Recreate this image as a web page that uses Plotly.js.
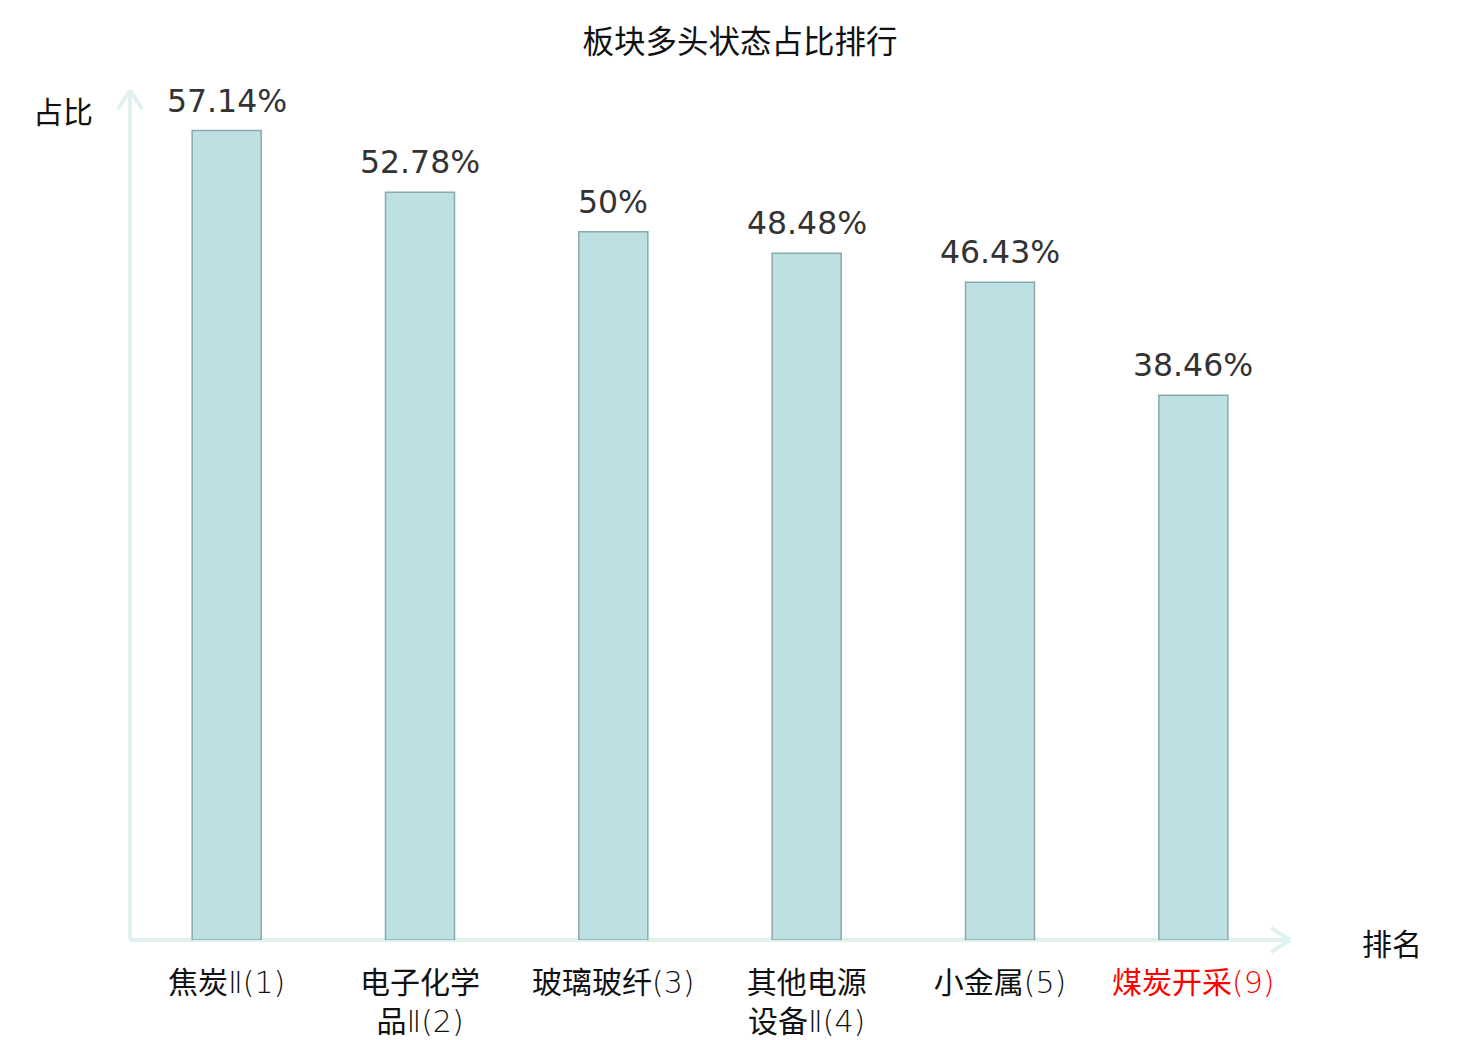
<!DOCTYPE html>
<html><head><meta charset="utf-8">
<script src="https://cdn.plot.ly/plotly-3.0.1.min.js"></script>
<style>html,body{margin:0;padding:0;background:#fff;}</style>
</head><body>
<div id="chart" style="width:1480px;height:1040px;"></div>
<script>
const categories = ["焦炭Ⅱ(1)", "电子化学<br>品Ⅱ(2)", "玻璃玻纤(3)", "其他电源<br>设备Ⅱ(4)", "小金属(5)", "煤炭开采(9)"];
const values = [57.14, 52.78, 50, 48.48, 46.43, 38.46];
const valueLabels = ["57.14%", "52.78%", "50%", "48.48%", "46.43%", "38.46%"];
const highlighted = [false, false, false, false, false, true];

const W = 1480, H = 1040, L = 130, R = 190, T = 90, B = 100;
const pw = W - L - R, ph = H - T - B;
const px = x => (x - L) / pw;
const py = y => (H - B - y) / ph;
const axisColor = "#dff2f0";
const font = "DejaVu Sans, Noto Sans CJK SC, sans-serif";
const cjkFont = "Noto Sans CJK SC, DejaVu Sans, sans-serif";

function seg(x0, y0, x1, y1) {
  return {type: "line", xref: "paper", yref: "paper", x0: px(x0), y0: py(y0), x1: px(x1), y1: py(y1),
          line: {color: axisColor, width: 4}, layer: "below"};
}

const idx = categories.map((c, i) => i);
const tickText = categories.map((c, i) => {
  let s = c.replace(/(Ⅱ?\(\d+\))/g, '<span style="font-weight:300">$1</span>');
  return highlighted[i] ? '<span style="color:#ff0000">' + s + '</span>' : s;
});

const data = [{
  type: "bar",
  x: idx,
  y: values,
  cliponaxis: false,
  marker: {color: "#bde0e3", line: {color: "#8aa9ac", width: 1.5}},
  hoverinfo: "none"
}];

const valueAnnotations = idx.map(i => ({
  x: i, y: values[i], xref: "x", yref: "y", text: valueLabels[i],
  xanchor: "center", yanchor: "bottom", yshift: 10, showarrow: false,
  font: {family: font, size: 31.5, color: "#333333"}
}));

const layout = {
  width: W, height: H,
  margin: {l: L, r: R, t: T, b: B},
  paper_bgcolor: "#ffffff", plot_bgcolor: "#ffffff",
  showlegend: false,
  bargap: 0.643,
  title: {text: "板块多头状态占比排行", x: 0.5, xref: "container", xanchor: "center", y: 1 - 42 / H, yanchor: "middle",
          font: {family: cjkFont, size: 31.5, color: "#111111"}},
  xaxis: {
    range: [-0.5, 5.5], tickvals: idx, ticktext: tickText,
    showgrid: false, zeroline: false, showline: false, ticks: "",
    ticklabelstandoff: 22,
    tickfont: {family: font, size: 30, color: "#111111"}
  },
  yaxis: {
    range: [0, 60], showgrid: false, zeroline: false, showline: false, showticklabels: false, ticks: ""
  },
  shapes: [
    seg(130, 940, 130, 90),
    seg(118, 109, 130, 90),
    seg(142, 109, 130, 90),
    seg(130, 940, 1290, 940),
    seg(1271, 928, 1290, 940),
    seg(1271, 952, 1290, 940)
  ],
  annotations: valueAnnotations.concat([
    {text: "占比", xref: "paper", yref: "paper", x: px(63), y: py(110), xanchor: "center", yanchor: "middle",
     showarrow: false, font: {family: cjkFont, size: 30, color: "#111111"}},
    {text: "排名", xref: "paper", yref: "paper", x: px(1392), y: py(942), xanchor: "center", yanchor: "middle",
     showarrow: false, font: {family: cjkFont, size: 30, color: "#111111"}}
  ])
};

Plotly.newPlot("chart", data, layout, {displayModeBar: false, staticPlot: true});
</script>
</body></html>
